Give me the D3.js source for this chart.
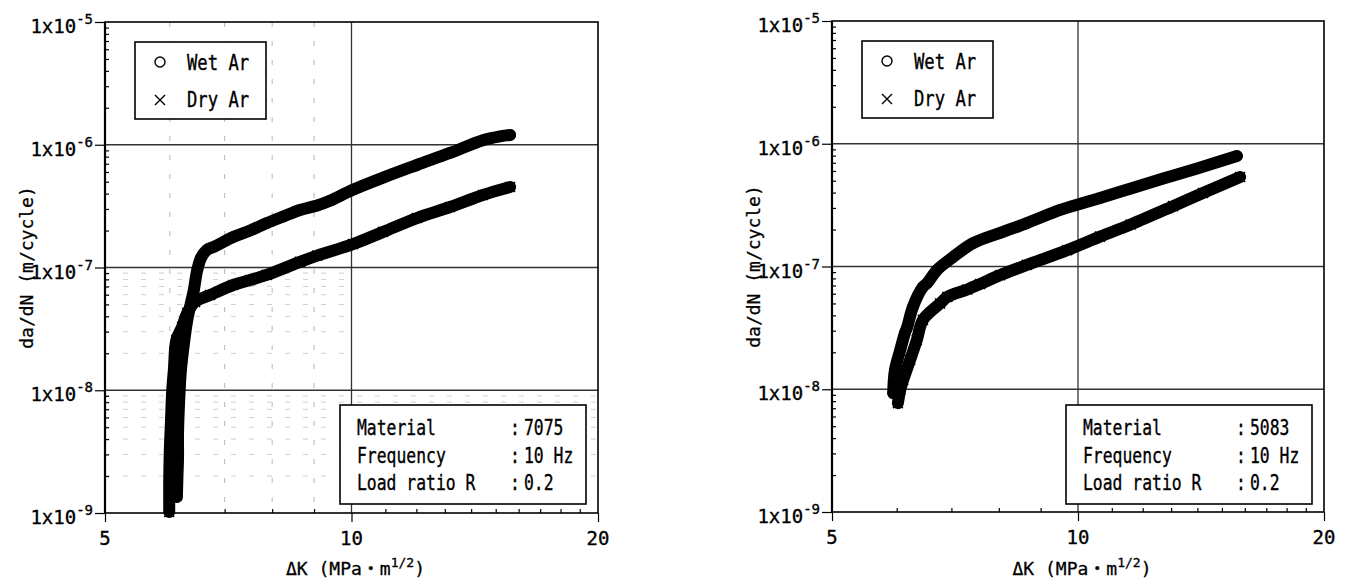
<!DOCTYPE html>
<html><head><meta charset="utf-8">
<script src="https://cdn.jsdelivr.net/npm/d3@7"></script>
<style>body{margin:0;background:#fff}</style>
</head><body><svg id="c" width="1351" height="581"></svg>
<script>
// ---------- data ----------
const xTickValues = [5, 10, 20];
const yTickExponents = [-9, -8, -7, -6, -5];
const legendLabels = ["Wet Ar", "Dry Ar"];
const infoLabels = ["Material", "Frequency", "Load ratio R"];
const infoValues7075 = ["7075", "10 Hz", "0.2"];
const infoValues5083 = ["5083", "10 Hz", "0.2"];
const yAxisTitle = "da/dN (m/cycle)";

// [ΔK (MPa·m^1/2), da/dN (m/cycle)]
const wet7075 = [[6.12,1.35e-9],[6.13,2.0e-9],[6.14,2.8e-9],[6.14,4.5e-9],[6.16,8.3e-9],[6.19,1.46e-8],
  [6.25,2.56e-8],[6.30,3.7e-8],[6.36,5.0e-8],[6.42,6.6e-8],[6.48,9.5e-8],[6.55,1.2e-7],[6.65,1.38e-7],
  [6.80,1.48e-7],[7.17,1.77e-7],[7.52,2.0e-7],[7.88,2.30e-7],[8.25,2.6e-7],[8.65,2.94e-7],[9.08,3.2e-7],
  [9.41,3.5e-7],[10.04,4.3e-7],[10.93,5.4e-7],[12.02,6.84e-7],[13.19,8.57e-7],[14.47,1.09e-6],
  [15.18,1.17e-6],[15.62,1.20e-6]];
const dry7075 = [[5.99,1.02e-9],[5.99,1.9e-9],[6.00,3.3e-9],[6.02,5.7e-9],[6.04,9.9e-9],[6.07,1.5e-8],
  [6.11,2.56e-8],[6.21,3.27e-8],[6.30,4.26e-8],[6.44,5.24e-8],[6.72,5.97e-8],[7.17,7.2e-8],[7.52,7.9e-8],
  [7.88,8.7e-8],[8.65,1.11e-7],[9.08,1.25e-7],[10.04,1.55e-7],[10.93,1.95e-7],[12.02,2.53e-7],
  [13.19,3.11e-7],[14.47,3.90e-7],[15.62,4.53e-7]];
const wet5083 = [[5.94,9.3e-9],[5.97,1.43e-8],[6.06,2.09e-8],[6.14,2.87e-8],[6.18,3.21e-8],[6.28,4.68e-8],
  [6.46,6.81e-8],[6.54,7.34e-8],[6.72,9.35e-8],[7.03,1.19e-7],[7.44,1.55e-7],[8.03,1.88e-7],[8.66,2.26e-7],
  [9.51,2.89e-7],[10.14,3.29e-7],[10.64,3.61e-7],[11.58,4.3e-7],[12.71,5.2e-7],[13.99,6.3e-7],[15.65,7.94e-7]];
const dry5083 = [[6.02,7.7e-9],[6.06,9.9e-9],[6.11,1.19e-8],[6.23,1.73e-8],[6.35,2.52e-8],[6.46,3.67e-8],
  [6.78,5.0e-8],[6.92,5.65e-8],[7.32,6.5e-8],[7.59,7.2e-8],[8.03,8.5e-8],[8.66,1.03e-7],[9.70,1.36e-7],
  [10.64,1.75e-7],[11.6,2.2e-7],[13.07,3.1e-7],[14.22,3.97e-7],[15.79,5.36e-7]];

// ---------- drawing ----------
const FONT = "'DejaVu Sans Mono', 'Liberation Mono', 'Noto Sans CJK JP', monospace";
const svg = d3.select("#c");

function txt(g, x, y, s, size, sx, anchor) {
  return g.append("text")
    .attr("transform", `translate(${x},${y}) scale(${sx},1)`)
    .attr("font-family", FONT).attr("font-size", size)
    .attr("text-anchor", anchor || "start").attr("fill", "#000")
    .attr("stroke", "#000").attr("stroke-width", 0.35).text(s);
}

function drawPanel(o) {
  const x = d3.scaleLog().domain([5, 20]).range([o.left, o.right]);
  const y = d3.scaleLog().domain([1e-9, 1e-5]).range([o.bottom, o.top]);
  const g = svg.append("g");
  const W = o.right - o.left, H = o.bottom - o.top;

  const minorX = [6,7,8,9,11,12,13,14,15,16,17,18,19];
  const minorY = [];
  for (let e = -9; e < -5; e++) for (let m = 2; m <= 9; m++) minorY.push(m * Math.pow(10, e));

  // faint dashed minor grid (scanned look)
  if (o.faintGrid) {
    g.selectAll(".mvx").data([6,7,8,9]).join("line")
      .attr("x1", d => x(d)).attr("x2", d => x(d)).attr("y1", o.top).attr("y2", o.bottom)
      .attr("stroke", "#b5b5b5").attr("stroke-width", 1).attr("stroke-dasharray", "5,14");
    g.selectAll(".mhy").data(minorY.filter(v => v < 1e-7)).join("line")
      .attr("x1", o.left).attr("x2", d => d < 1e-8 ? o.right : x(10))
      .attr("y1", d => y(d)).attr("y2", d => y(d))
      .attr("stroke", "#cfcfcf").attr("stroke-width", 1).attr("stroke-dasharray", "5,13");
  }

  // major grid
  g.selectAll(".gy").data([1e-8, 1e-7, 1e-6]).join("line")
    .attr("x1", o.left).attr("x2", o.right).attr("y1", d => y(d)).attr("y2", d => y(d))
    .attr("stroke", "#333").attr("stroke-width", 1.3);
  g.append("line").attr("x1", x(10)).attr("x2", x(10)).attr("y1", o.top).attr("y2", o.bottom)
    .attr("stroke", "#333").attr("stroke-width", 1.3);

  // axes (ticks)
  const yAxis = g.append("g").attr("transform", `translate(${o.left},0)`)
    .call(d3.axisLeft(y).tickValues(yTickExponents.map(e => Math.pow(10, e))).tickSize(10).tickFormat(() => ""));
  const yMinor = g.append("g").attr("transform", `translate(${o.left},0)`)
    .call(d3.axisRight(y).tickValues(minorY).tickSize(4).tickFormat(() => ""));
  const xAxis = g.append("g").attr("transform", `translate(0,${o.bottom})`)
    .call(d3.axisBottom(x).tickValues(xTickValues).tickSize(9).tickFormat(() => ""));
  const xMinor = g.append("g").attr("transform", `translate(0,${o.bottom})`)
    .call(d3.axisTop(x).tickValues(minorX).tickSize(4).tickFormat(() => ""));
  [yAxis, yMinor, xAxis, xMinor].forEach(a => {
    a.select(".domain").remove();
    a.selectAll("line").attr("stroke", "#000").attr("stroke-width", 1.2);
  });

  // y tick labels 1x10^n
  yTickExponents.forEach(e => {
    const t = g.append("text").attr("x", o.left - 12).attr("y", y(Math.pow(10, e)) + 11)
      .attr("font-family", FONT).attr("font-size", 19).attr("text-anchor", "end")
      .attr("stroke", "#000").attr("stroke-width", 0.35);
    t.append("tspan").text("1x10");
    t.append("tspan").attr("dy", -9).attr("font-size", 14).text("-" + Math.abs(e));
  });
  // x tick labels
  xTickValues.forEach(v => txt(g, x(v), o.bottom + 32, String(v), 19, 1, "middle"));

  // data bands + markers
  const line = d3.line().x(d => x(d[0])).y(d => y(d[1])).curve(d3.curveCatmullRom.alpha(0.5));
  [o.dry, o.wet].forEach(s => {
    g.append("path").datum(s).attr("d", line).attr("fill", "none").attr("stroke", "#000")
      .attr("stroke-width", 12).attr("stroke-linecap", "round").attr("stroke-linejoin", "round");
  });
  g.selectAll(".wm").data(o.wet).join("circle")
    .attr("cx", d => x(d[0])).attr("cy", d => y(d[1])).attr("r", 5)
    .attr("fill", "none").attr("stroke", "#000").attr("stroke-width", 1.4);
  g.selectAll(".dm").data(o.dry).join("path")
    .attr("transform", d => `translate(${x(d[0])},${y(d[1])})`)
    .attr("d", "M-5,-5L5,5M-5,5L5,-5").attr("stroke", "#000").attr("stroke-width", 1.6);

  // frame
  g.append("rect").attr("x", o.left).attr("y", o.top).attr("width", W).attr("height", H)
    .attr("fill", "none").attr("stroke", "#000").attr("stroke-width", 1.6);
  g.append("line").attr("x1", o.left).attr("x2", o.left).attr("y1", o.top).attr("y2", o.bottom)
    .attr("stroke", "#000").attr("stroke-width", 2.2);

  // legend
  const lx = o.left + 30, ly = o.top + 20;
  g.append("rect").attr("x", lx).attr("y", ly).attr("width", 131).attr("height", 77)
    .attr("fill", "#fff").attr("stroke", "#000").attr("stroke-width", 1.6);
  g.append("circle").attr("cx", lx + 25).attr("cy", ly + 20).attr("r", 5)
    .attr("fill", "none").attr("stroke", "#000").attr("stroke-width", 1.4);
  g.append("path").attr("transform", `translate(${lx + 25},${ly + 58})`)
    .attr("d", "M-5,-5L5,5M-5,5L5,-5").attr("stroke", "#000").attr("stroke-width", 1.4);
  txt(g, lx + 52, ly + 28, legendLabels[0], 21, 0.82);
  txt(g, lx + 52, ly + 65, legendLabels[1], 21, 0.82);

  // info box
  const bx = o.right - 258, by = 405;
  g.append("rect").attr("x", bx).attr("y", by).attr("width", 246).attr("height", 99)
    .attr("fill", "#fff").attr("stroke", "#000").attr("stroke-width", 1.6);
  infoLabels.forEach((l, i) => {
    const yy = by + 30 + i * 27.5;
    txt(g, bx + 17, yy, l, 21, 0.78);
    txt(g, bx + 170, yy, ":", 21, 0.78);
    txt(g, bx + 184, yy, o.info[i], 21, 0.78);
  });

  // axis titles
  g.append("text").attr("transform", `translate(${o.left - 72},${(o.top + o.bottom) / 2}) rotate(-90)`)
    .attr("font-family", FONT).attr("font-size", 18).attr("text-anchor", "middle")
    .attr("stroke", "#000").attr("stroke-width", 0.3).text(yAxisTitle);
  const xt = g.append("text").attr("x", (o.left + o.right) / 2 + 4).attr("y", 575)
    .attr("font-family", FONT).attr("font-size", 18).attr("text-anchor", "middle")
    .attr("stroke", "#000").attr("stroke-width", 0.3);
  xt.append("tspan").text("\u0394K (MPa\u30FBm");
  xt.append("tspan").attr("dy", -8).attr("font-size", 13).text("1/2");
  xt.append("tspan").attr("dy", 8).text(")");
}

drawPanel({left: 105, right: 598, top: 22, bottom: 513, wet: wet7075, dry: dry7075, info: infoValues7075, faintGrid: true});
drawPanel({left: 832, right: 1324, top: 21, bottom: 512, wet: wet5083, dry: dry5083, info: infoValues5083, faintGrid: false});
</script>
</body></html>
